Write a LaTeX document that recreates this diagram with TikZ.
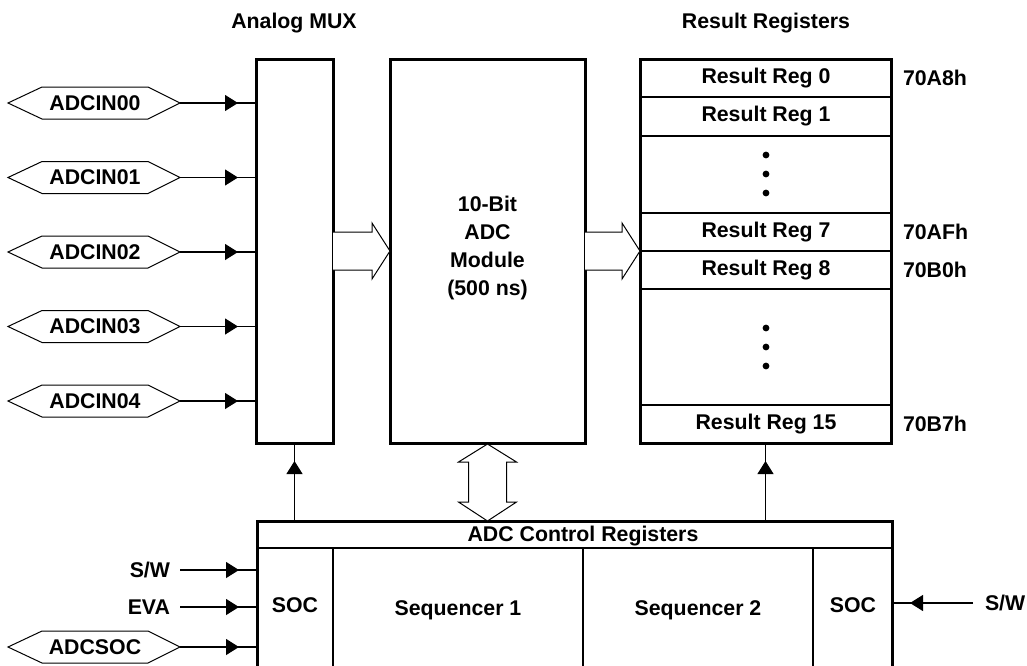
\documentclass[tikz,border=0pt]{standalone}
\usepackage{fontspec}
\setmainfont{Liberation Sans}
\usetikzlibrary{calc,arrows.meta,decorations.markings}
\begin{document}
\begin{tikzpicture}[x=1pt,y=-1pt,
  every node/.style={font=\fontsize{21.3}{28}\selectfont\bfseries, inner sep=0pt, outer sep=0pt},
  bigbox/.style={draw, line width=3pt, rectangle},
  thinline/.style={line width=1.2pt},
  hollow/.style={line width=1pt, fill=white, line join=miter},
  pintext/.style={minimum width=106pt, minimum height=32pt},
  pinframe/.style={line width=1pt, line join=miter},
  conn/.style={line width=1.2pt, postaction={decorate},
    decoration={markings, mark=at position -18pt with {\arrow{Triangle[length=13pt,width=16pt]}}}},
]
\useasboundingbox (0,0) rectangle (1027,665);
\clip (0,0) rectangle (1027,665);

% titles
\node (tmux) at (294,23) {Analog MUX};
\node (treg) at (766,23) {Result Registers};

% main boxes
\node[bigbox, minimum width=77pt, minimum height=384pt] (mux) at (294.5,251) {};
\node[bigbox, minimum width=195pt, minimum height=384pt, align=center] (adc) at (487.5,251) {};
\node[align=center] (adct) at (487.5,248) {10-Bit\\ADC\\Module\\(500 ns)};
\node[bigbox, minimum width=251pt, minimum height=384pt] (reg) at (765.5,251) {};
\node[bigbox, minimum width=635pt, minimum height=179pt] (ctrl) at (574.5,610.5) {};

% register rows
\foreach \yy in {97,136,213,251,289,405}
  \draw[thinline] (reg.west |- 0,\yy) -- (reg.east |- 0,\yy);
\node (r0) at (766,78) {Result Reg 0};
\node (r1) at (766,116.5) {Result Reg 1};
\node (r7) at (766,232) {Result Reg 7};
\node (r8) at (766,270) {Result Reg 8};
\node (r15) at (766,424) {Result Reg 15};
\foreach \yy in {155,174,193,328,347,366}
  \fill (766,\yy) circle (3.4pt);
\node[anchor=west] (a0) at (903,78) {70A8h};
\node[anchor=west] (a7) at (903,232) {70AFh};
\node[anchor=west] (a8) at (903,270) {70B0h};
\node[anchor=west] (a15) at (903,424) {70B7h};

% hollow arrows MUX -> ADC -> registers
\draw[hollow] ($(mux.east)+(0,-19)$) -- ($(adc.west)+(-18,-19)$) -- ($(adc.west)+(-18,-28)$)
  -- (adc.west) -- ($(adc.west)+(-18,28)$) -- ($(adc.west)+(-18,19)$) -- ($(mux.east)+(0,19)$);
\draw[hollow] ($(adc.east)+(0,-19)$) -- ($(reg.west)+(-18,-19)$) -- ($(reg.west)+(-18,-28)$)
  -- (reg.west) -- ($(reg.west)+(-18,28)$) -- ($(reg.west)+(-18,19)$) -- ($(adc.east)+(0,19)$);

% double hollow arrow ADC <-> control
\coordinate (dtop) at ($(adc.south)+(0,1)$);
\coordinate (dbot) at (dtop |- ctrl.north);
\draw[hollow] (dtop) -- ($(dtop)+(29,18)$) -- ($(dtop)+(19,18)$) -- ($(dbot)+(19,-19)$)
  -- ($(dbot)+(29,-19)$) -- (dbot) -- ($(dbot)+(-29,-19)$) -- ($(dbot)+(-19,-19)$)
  -- ($(dtop)+(-19,18)$) -- ($(dtop)+(-29,18)$) -- cycle;

% control register internals
\node (ctitle) at (583,536) {ADC Control Registers};
\draw[thinline] (ctrl.west |- 0,548) -- (ctrl.east |- 0,548);
\foreach \xx in {333,583,813}
  \draw[thinline] (\xx,548) -- (\xx,700);
\node (soc1) at (295,605) {SOC};
\node (seq1) at (458,610) {Sequencer 1};
\node (seq2) at (698,610) {Sequencer 2};
\node (soc2) at (853,605) {SOC};

% vertical arrows from control into MUX and registers
\draw[conn] (ctrl.north -| mux.south) -- (mux.south);
\draw[conn] (ctrl.north -| reg.south) -- (reg.south);

% analog input pins
\foreach \i/\yy in {0/103,1/177.5,2/252,3/326.5,4/401}{
  \node[pintext] (p\i) at (95,\yy) {ADCIN0\i};
  \coordinate (p\i tip) at ($(p\i.east)+(32,0)$);
  \draw[pinframe] (p\i.north west) -- (p\i.north east) -- (p\i tip) -- (p\i.south east)
    -- (p\i.south west) -- ($(p\i.west)+(-34,0)$) -- cycle;
  \draw[conn] (p\i tip) -- (p\i tip -| mux.west);
}

% start-of-conversion inputs
\node[anchor=east] (sw1) at (170,570) {S/W};
\node[anchor=east] (eva) at (170,607) {EVA};
\draw[conn] ($(sw1.east)+(10,0)$) -- (sw1 -| ctrl.west);
\draw[conn] ($(eva.east)+(10,0)$) -- (eva -| ctrl.west);
\node[pintext] (ps) at (95,647) {ADCSOC};
\coordinate (pstip) at ($(ps.east)+(32,0)$);
\draw[pinframe] (ps.north west) -- (ps.north east) -- (pstip) -- (ps.south east)
  -- (ps.south west) -- ($(ps.west)+(-34,0)$) -- cycle;
\draw[conn] (pstip) -- (pstip -| ctrl.west);
\node[anchor=west] (sw2) at (985,603) {S/W};
\draw[conn] ($(sw2.west)+(-12,0)$) -- (sw2 -| ctrl.east);
\end{tikzpicture}
\end{document}
